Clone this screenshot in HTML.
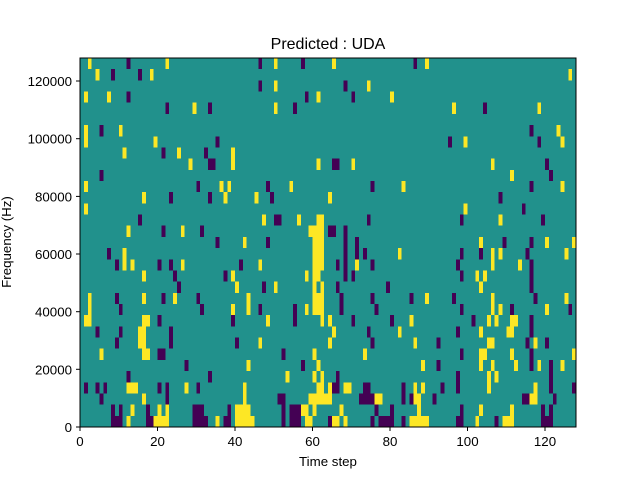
<!DOCTYPE html>
<html><head><meta charset="utf-8"><style>
html,body{margin:0;padding:0;background:#fff;}
svg{display:block;font-family:"Liberation Sans","DejaVu Sans",sans-serif;}
.Y{fill:#fde725}.D{fill:#440154}
</style></head><body>
<svg width="640" height="480" viewBox="0 0 640 480" xmlns="http://www.w3.org/2000/svg">
<rect x="80" y="58" width="496" height="369" fill="#21918c"/>
<g transform="translate(80,58) scale(3.875,11.1818)" shape-rendering="crispEdges">
<rect class="Y" x="2" y="0" width="1" height="1"/><rect class="D" x="12" y="0" width="1" height="1"/><rect class="Y" x="22" y="0" width="1" height="1"/><rect class="D" x="46" y="0" width="1" height="1"/><rect class="Y" x="50" y="0" width="1" height="1"/><rect class="D" x="57" y="0" width="1" height="1"/><rect class="Y" x="65" y="0" width="1" height="1"/><rect class="D" x="86" y="0" width="1" height="1"/><rect class="Y" x="89" y="0" width="1" height="1"/>
<rect class="Y" x="4" y="1" width="1" height="1"/><rect class="D" x="8" y="1" width="1" height="1"/><rect class="D" x="15" y="1" width="1" height="1"/><rect class="Y" x="18" y="1" width="1" height="1"/><rect class="Y" x="126" y="1" width="1" height="1"/>
<rect class="D" x="46" y="2" width="1" height="1"/><rect class="Y" x="50" y="2" width="1" height="1"/><rect class="D" x="68" y="2" width="1" height="1"/><rect class="Y" x="74" y="2" width="1" height="1"/>
<rect class="Y" x="1" y="3" width="1" height="1"/><rect class="Y" x="7" y="3" width="1" height="1"/><rect class="D" x="12" y="3" width="1" height="1"/><rect class="D" x="58" y="3" width="1" height="1"/><rect class="Y" x="61" y="3" width="1" height="1"/><rect class="D" x="70" y="3" width="1" height="1"/><rect class="Y" x="80" y="3" width="1" height="1"/>
<rect class="D" x="22" y="4" width="1" height="1"/><rect class="Y" x="29" y="4" width="1" height="1"/><rect class="D" x="33" y="4" width="1" height="1"/><rect class="Y" x="50" y="4" width="1" height="1"/><rect class="D" x="55" y="4" width="1" height="1"/><rect class="Y" x="96" y="4" width="1" height="1"/><rect class="D" x="104" y="4" width="1" height="1"/><rect class="Y" x="118" y="4" width="1" height="1"/>
<rect class="Y" x="1" y="6" width="1" height="2"/><rect class="D" x="5" y="6" width="1" height="1"/><rect class="Y" x="10" y="6" width="1" height="1"/><rect class="D" x="116" y="6" width="1" height="1"/><rect class="Y" x="123" y="6" width="1" height="1"/>
<rect class="Y" x="19" y="7" width="1" height="1"/><rect class="D" x="35" y="7" width="1" height="1"/><rect class="D" x="95" y="7" width="1" height="1"/><rect class="Y" x="99" y="7" width="1" height="1"/><rect class="D" x="118" y="7" width="1" height="1"/><rect class="Y" x="124" y="7" width="1" height="1"/>
<rect class="Y" x="11" y="8" width="1" height="1"/><rect class="D" x="21" y="8" width="1" height="1"/><rect class="Y" x="25" y="8" width="1" height="1"/><rect class="D" x="32" y="8" width="1" height="1"/><rect class="Y" x="39" y="8" width="1" height="2"/>
<rect class="Y" x="28" y="9" width="1" height="1"/><rect class="D" x="33" y="9" width="2" height="1"/><rect class="Y" x="61" y="9" width="1" height="1"/><rect class="D" x="65" y="9" width="2" height="1"/><rect class="Y" x="70" y="9" width="1" height="1"/><rect class="Y" x="106" y="9" width="1" height="1"/><rect class="D" x="120" y="9" width="1" height="1"/>
<rect class="D" x="5" y="10" width="1" height="1"/><rect class="Y" x="111" y="10" width="1" height="1"/><rect class="D" x="121" y="10" width="1" height="1"/>
<rect class="Y" x="1" y="11" width="1" height="1"/><rect class="D" x="30" y="11" width="1" height="1"/><rect class="Y" x="36" y="11" width="1" height="1"/><rect class="Y" x="38" y="11" width="1" height="1"/><rect class="D" x="48" y="11" width="1" height="1"/><rect class="Y" x="54" y="11" width="1" height="1"/><rect class="D" x="75" y="11" width="1" height="1"/><rect class="Y" x="83" y="11" width="1" height="1"/><rect class="D" x="116" y="11" width="1" height="1"/><rect class="Y" x="124" y="11" width="1" height="1"/>
<rect class="Y" x="16" y="12" width="1" height="1"/><rect class="D" x="23" y="12" width="1" height="1"/><rect class="D" x="33" y="12" width="1" height="1"/><rect class="Y" x="37" y="12" width="1" height="1"/><rect class="Y" x="45" y="12" width="1" height="1"/><rect class="D" x="49" y="12" width="1" height="1"/><rect class="Y" x="64" y="12" width="1" height="1"/><rect class="D" x="108" y="12" width="1" height="1"/>
<rect class="Y" x="1" y="13" width="1" height="1"/><rect class="Y" x="99" y="13" width="1" height="1"/><rect class="D" x="114" y="13" width="1" height="1"/>
<rect class="D" x="15" y="14" width="1" height="1"/><rect class="Y" x="47" y="14" width="1" height="1"/><rect class="D" x="50" y="14" width="2" height="1"/><rect class="Y" x="56" y="14" width="1" height="1"/><rect class="Y" x="61" y="14" width="2" height="1"/><rect class="D" x="74" y="14" width="1" height="1"/><rect class="D" x="98" y="14" width="1" height="1"/><rect class="Y" x="108" y="14" width="1" height="1"/><rect class="D" x="119" y="14" width="1" height="1"/>
<rect class="Y" x="12" y="15" width="1" height="1"/><rect class="D" x="21" y="15" width="1" height="1"/><rect class="Y" x="26" y="15" width="1" height="1"/><rect class="D" x="31" y="15" width="1" height="1"/><rect class="Y" x="59" y="15" width="4" height="1"/><rect class="D" x="64" y="15" width="2" height="1"/><rect class="D" x="68" y="15" width="1" height="2"/>
<rect class="D" x="35" y="16" width="1" height="1"/><rect class="Y" x="42" y="16" width="1" height="1"/><rect class="D" x="48" y="16" width="1" height="1"/><rect class="Y" x="60" y="16" width="3" height="1"/><rect class="D" x="71" y="16" width="1" height="1"/><rect class="Y" x="103" y="16" width="1" height="1"/><rect class="D" x="109" y="16" width="1" height="1"/><rect class="D" x="116" y="16" width="1" height="1"/><rect class="Y" x="120" y="16" width="1" height="1"/><rect class="Y" x="127" y="16" width="1" height="1"/>
<rect class="D" x="7" y="17" width="1" height="1"/><rect class="Y" x="11" y="17" width="1" height="1"/><rect class="Y" x="60" y="17" width="3" height="1"/><rect class="D" x="68" y="17" width="1" height="1"/><rect class="D" x="71" y="17" width="1" height="1"/><rect class="D" x="73" y="17" width="1" height="1"/><rect class="Y" x="82" y="17" width="1" height="1"/><rect class="D" x="98" y="17" width="1" height="1"/><rect class="D" x="103" y="17" width="1" height="1"/><rect class="Y" x="106" y="17" width="1" height="1"/><rect class="Y" x="108" y="17" width="1" height="1"/><rect class="D" x="115" y="17" width="1" height="1"/><rect class="Y" x="125" y="17" width="1" height="1"/>
<rect class="D" x="9" y="18" width="1" height="1"/><rect class="Y" x="11" y="18" width="1" height="1"/><rect class="Y" x="13" y="18" width="1" height="1"/><rect class="D" x="20" y="18" width="1" height="1"/><rect class="D" x="23" y="18" width="1" height="1"/><rect class="Y" x="26" y="18" width="1" height="1"/><rect class="D" x="41" y="18" width="1" height="1"/><rect class="Y" x="46" y="18" width="1" height="1"/><rect class="Y" x="60" y="18" width="3" height="1"/><rect class="D" x="66" y="18" width="1" height="1"/><rect class="D" x="68" y="18" width="1" height="1"/><rect class="Y" x="71" y="18" width="1" height="1"/><rect class="D" x="75" y="18" width="1" height="1"/><rect class="D" x="97" y="18" width="1" height="1"/><rect class="Y" x="106" y="18" width="1" height="1"/><rect class="Y" x="113" y="18" width="1" height="1"/><rect class="D" x="116" y="18" width="1" height="1"/>
<rect class="Y" x="16" y="19" width="1" height="1"/><rect class="D" x="24" y="19" width="1" height="1"/><rect class="D" x="37" y="19" width="1" height="1"/><rect class="Y" x="39" y="19" width="1" height="1"/><rect class="Y" x="58" y="19" width="1" height="1"/><rect class="Y" x="60" y="19" width="2" height="1"/><rect class="D" x="68" y="19" width="1" height="1"/><rect class="D" x="70" y="19" width="1" height="1"/><rect class="D" x="98" y="19" width="1" height="1"/><rect class="Y" x="102" y="19" width="1" height="1"/><rect class="Y" x="104" y="19" width="1" height="1"/><rect class="D" x="116" y="19" width="1" height="1"/>
<rect class="D" x="25" y="20" width="1" height="1"/><rect class="Y" x="40" y="20" width="1" height="1"/><rect class="D" x="47" y="20" width="1" height="1"/><rect class="Y" x="50" y="20" width="1" height="1"/><rect class="Y" x="60" y="20" width="1" height="1"/><rect class="Y" x="62" y="20" width="1" height="1"/><rect class="D" x="66" y="20" width="1" height="1"/><rect class="D" x="79" y="20" width="1" height="1"/><rect class="Y" x="103" y="20" width="1" height="1"/><rect class="D" x="116" y="20" width="1" height="1"/>
<rect class="Y" x="2" y="21" width="1" height="2"/><rect class="D" x="9" y="21" width="1" height="1"/><rect class="Y" x="16" y="21" width="1" height="1"/><rect class="D" x="21" y="21" width="1" height="1"/><rect class="Y" x="24" y="21" width="1" height="1"/><rect class="D" x="30" y="21" width="1" height="1"/><rect class="Y" x="43" y="21" width="1" height="2"/><rect class="Y" x="60" y="21" width="3" height="2"/><rect class="D" x="67" y="21" width="1" height="2"/><rect class="D" x="75" y="21" width="1" height="1"/><rect class="D" x="85" y="21" width="1" height="1"/><rect class="Y" x="89" y="21" width="1" height="1"/><rect class="D" x="96" y="21" width="1" height="1"/><rect class="Y" x="106" y="21" width="1" height="2"/><rect class="D" x="117" y="21" width="1" height="1"/><rect class="Y" x="125" y="21" width="1" height="1"/>
<rect class="D" x="10" y="22" width="1" height="1"/><rect class="D" x="31" y="22" width="1" height="1"/><rect class="Y" x="39" y="22" width="1" height="1"/><rect class="D" x="46" y="22" width="1" height="1"/><rect class="D" x="55" y="22" width="1" height="2"/><rect class="Y" x="58" y="22" width="1" height="1"/><rect class="D" x="76" y="22" width="1" height="1"/><rect class="D" x="98" y="22" width="1" height="1"/><rect class="Y" x="108" y="22" width="1" height="1"/><rect class="D" x="111" y="22" width="1" height="1"/><rect class="Y" x="120" y="22" width="1" height="1"/><rect class="D" x="126" y="22" width="1" height="1"/>
<rect class="Y" x="1" y="23" width="2" height="1"/><rect class="Y" x="16" y="23" width="2" height="1"/><rect class="D" x="20" y="23" width="1" height="1"/><rect class="D" x="39" y="23" width="1" height="1"/><rect class="Y" x="48" y="23" width="1" height="1"/><rect class="Y" x="62" y="23" width="1" height="1"/><rect class="Y" x="64" y="23" width="1" height="1"/><rect class="D" x="70" y="23" width="1" height="1"/><rect class="D" x="80" y="23" width="1" height="1"/><rect class="Y" x="85" y="23" width="1" height="1"/><rect class="D" x="101" y="23" width="1" height="1"/><rect class="Y" x="105" y="23" width="1" height="1"/><rect class="Y" x="107" y="23" width="1" height="1"/><rect class="Y" x="111" y="23" width="2" height="1"/><rect class="D" x="116" y="23" width="1" height="2"/>
<rect class="D" x="4" y="24" width="1" height="1"/><rect class="D" x="10" y="24" width="1" height="1"/><rect class="Y" x="15" y="24" width="2" height="2"/><rect class="D" x="23" y="24" width="1" height="2"/><rect class="Y" x="65" y="24" width="1" height="1"/><rect class="D" x="74" y="24" width="1" height="1"/><rect class="Y" x="82" y="24" width="1" height="1"/><rect class="D" x="97" y="24" width="1" height="1"/><rect class="Y" x="103" y="24" width="1" height="1"/><rect class="Y" x="110" y="24" width="2" height="1"/>
<rect class="D" x="9" y="25" width="1" height="1"/><rect class="D" x="40" y="25" width="1" height="1"/><rect class="Y" x="46" y="25" width="1" height="1"/><rect class="Y" x="64" y="25" width="1" height="1"/><rect class="D" x="75" y="25" width="1" height="1"/><rect class="Y" x="86" y="25" width="1" height="1"/><rect class="D" x="92" y="25" width="1" height="1"/><rect class="Y" x="105" y="25" width="2" height="1"/><rect class="D" x="115" y="25" width="1" height="1"/><rect class="Y" x="117" y="25" width="1" height="1"/><rect class="D" x="120" y="25" width="1" height="1"/>
<rect class="Y" x="5" y="26" width="1" height="1"/><rect class="Y" x="16" y="26" width="2" height="1"/><rect class="D" x="20" y="26" width="2" height="1"/><rect class="D" x="52" y="26" width="1" height="1"/><rect class="Y" x="60" y="26" width="1" height="1"/><rect class="Y" x="73" y="26" width="1" height="1"/><rect class="D" x="98" y="26" width="1" height="1"/><rect class="Y" x="103" y="26" width="2" height="1"/><rect class="Y" x="111" y="26" width="1" height="1"/><rect class="D" x="116" y="26" width="1" height="2"/><rect class="Y" x="127" y="26" width="1" height="1"/>
<rect class="D" x="27" y="27" width="1" height="1"/><rect class="Y" x="43" y="27" width="1" height="1"/><rect class="D" x="57" y="27" width="1" height="1"/><rect class="Y" x="61" y="27" width="1" height="1"/><rect class="Y" x="88" y="27" width="1" height="1"/><rect class="D" x="92" y="27" width="1" height="1"/><rect class="Y" x="103" y="27" width="1" height="1"/><rect class="Y" x="106" y="27" width="1" height="1"/><rect class="Y" x="112" y="27" width="1" height="1"/><rect class="Y" x="118" y="27" width="1" height="1"/><rect class="D" x="121" y="27" width="1" height="3"/><rect class="Y" x="124" y="27" width="1" height="1"/>
<rect class="D" x="12" y="28" width="1" height="1"/><rect class="D" x="33" y="28" width="1" height="1"/><rect class="Y" x="53" y="28" width="1" height="1"/><rect class="Y" x="60" y="28" width="1" height="1"/><rect class="Y" x="62" y="28" width="1" height="1"/><rect class="D" x="66" y="28" width="1" height="1"/><rect class="D" x="97" y="28" width="1" height="2"/><rect class="Y" x="105" y="28" width="1" height="2"/><rect class="Y" x="107" y="28" width="1" height="1"/>
<rect class="D" x="1" y="29" width="1" height="1"/><rect class="D" x="4" y="29" width="1" height="1"/><rect class="D" x="6" y="29" width="1" height="1"/><rect class="Y" x="12" y="29" width="3" height="1"/><rect class="D" x="20" y="29" width="1" height="1"/><rect class="D" x="22" y="29" width="1" height="2"/><rect class="Y" x="27" y="29" width="1" height="1"/><rect class="D" x="30" y="29" width="1" height="1"/><rect class="Y" x="42" y="29" width="1" height="2"/><rect class="Y" x="61" y="29" width="2" height="1"/><rect class="Y" x="64" y="29" width="1" height="1"/><rect class="D" x="65" y="29" width="2" height="1"/><rect class="Y" x="68" y="29" width="2" height="1"/><rect class="D" x="73" y="29" width="2" height="1"/><rect class="D" x="83" y="29" width="1" height="2"/><rect class="Y" x="86" y="29" width="1" height="1"/><rect class="Y" x="88" y="29" width="1" height="1"/><rect class="D" x="93" y="29" width="1" height="1"/><rect class="Y" x="117" y="29" width="1" height="2"/><rect class="D" x="127" y="29" width="1" height="1"/>
<rect class="D" x="5" y="30" width="1" height="1"/><rect class="Y" x="16" y="30" width="1" height="1"/><rect class="D" x="51" y="30" width="2" height="1"/><rect class="Y" x="59" y="30" width="6" height="1"/><rect class="D" x="72" y="30" width="4" height="1"/><rect class="Y" x="76" y="30" width="2" height="1"/><rect class="D" x="85" y="30" width="1" height="1"/><rect class="Y" x="86" y="30" width="2" height="1"/><rect class="D" x="91" y="30" width="1" height="1"/><rect class="D" x="114" y="30" width="2" height="1"/><rect class="Y" x="116" y="30" width="1" height="1"/><rect class="D" x="122" y="30" width="1" height="1"/>
<rect class="D" x="8" y="31" width="1" height="1"/><rect class="D" x="10" y="31" width="1" height="1"/><rect class="Y" x="13" y="31" width="1" height="1"/><rect class="D" x="17" y="31" width="1" height="1"/><rect class="Y" x="20" y="31" width="1" height="1"/><rect class="Y" x="22" y="31" width="1" height="1"/><rect class="D" x="29" y="31" width="3" height="1"/><rect class="D" x="38" y="31" width="1" height="1"/><rect class="Y" x="40" y="31" width="4" height="1"/><rect class="D" x="52" y="31" width="1" height="1"/><rect class="D" x="54" y="31" width="3" height="1"/><rect class="Y" x="57" y="31" width="2" height="1"/><rect class="Y" x="60" y="31" width="1" height="1"/><rect class="Y" x="67" y="31" width="1" height="1"/><rect class="D" x="76" y="31" width="1" height="1"/><rect class="D" x="80" y="31" width="1" height="1"/><rect class="Y" x="87" y="31" width="1" height="1"/><rect class="D" x="98" y="31" width="1" height="1"/><rect class="Y" x="103" y="31" width="1" height="1"/><rect class="Y" x="111" y="31" width="1" height="1"/><rect class="D" x="119" y="31" width="1" height="1"/><rect class="D" x="121" y="31" width="1" height="1"/>
<rect class="D" x="8" y="32" width="3" height="1"/><rect class="Y" x="12" y="32" width="1" height="1"/><rect class="D" x="17" y="32" width="2" height="1"/><rect class="Y" x="19" y="32" width="4" height="1"/><rect class="D" x="29" y="32" width="4" height="1"/><rect class="Y" x="35" y="32" width="1" height="1"/><rect class="D" x="37" y="32" width="2" height="1"/><rect class="Y" x="40" y="32" width="5" height="1"/><rect class="D" x="52" y="32" width="1" height="1"/><rect class="D" x="54" y="32" width="3" height="1"/><rect class="Y" x="58" y="32" width="2" height="1"/><rect class="D" x="64" y="32" width="1" height="1"/><rect class="Y" x="65" y="32" width="2" height="1"/><rect class="Y" x="68" y="32" width="1" height="1"/><rect class="D" x="75" y="32" width="1" height="1"/><rect class="D" x="77" y="32" width="4" height="1"/><rect class="D" x="83" y="32" width="1" height="1"/><rect class="Y" x="85" y="32" width="5" height="1"/><rect class="D" x="97" y="32" width="2" height="1"/><rect class="Y" x="102" y="32" width="1" height="1"/><rect class="D" x="107" y="32" width="1" height="1"/><rect class="Y" x="109" y="32" width="3" height="1"/><rect class="D" x="119" y="32" width="3" height="1"/>
</g>
<rect x="80" y="58" width="496" height="369" fill="none" stroke="#000" stroke-width="1"/>
<g stroke="#000" stroke-width="1">
<line x1="80" y1="427" x2="80" y2="431"/><line x1="157.5" y1="427" x2="157.5" y2="431"/><line x1="235" y1="427" x2="235" y2="431"/><line x1="312.5" y1="427" x2="312.5" y2="431"/><line x1="390" y1="427" x2="390" y2="431"/><line x1="467.5" y1="427" x2="467.5" y2="431"/><line x1="545" y1="427" x2="545" y2="431"/>
<line x1="76" y1="427" x2="80" y2="427"/><line x1="76" y1="369.3" x2="80" y2="369.3"/><line x1="76" y1="311.7" x2="80" y2="311.7"/><line x1="76" y1="254" x2="80" y2="254"/><line x1="76" y1="196.4" x2="80" y2="196.4"/><line x1="76" y1="138.7" x2="80" y2="138.7"/><line x1="76" y1="81" x2="80" y2="81"/>
</g>
<g font-size="13.3" fill="#000" text-anchor="middle">
<text x="80" y="446">0</text><text x="157.5" y="446">20</text><text x="235" y="446">40</text><text x="312.5" y="446">60</text><text x="390" y="446">80</text><text x="467.5" y="446">100</text><text x="545" y="446">120</text>
<text x="328" y="466">Time step</text>
</g>
<g font-size="13.3" fill="#000" text-anchor="end">
<text x="72" y="432">0</text><text x="72" y="374.3">20000</text><text x="72" y="316.7">40000</text><text x="72" y="259">60000</text><text x="72" y="201.4">80000</text><text x="72" y="143.7">100000</text><text x="72" y="86">120000</text>
</g>
<text transform="translate(11,242) rotate(-90)" font-size="13.3" text-anchor="middle">Frequency (Hz)</text>
<text x="328" y="49" font-size="16" text-anchor="middle">Predicted : UDA</text>
</svg>
</body></html>
